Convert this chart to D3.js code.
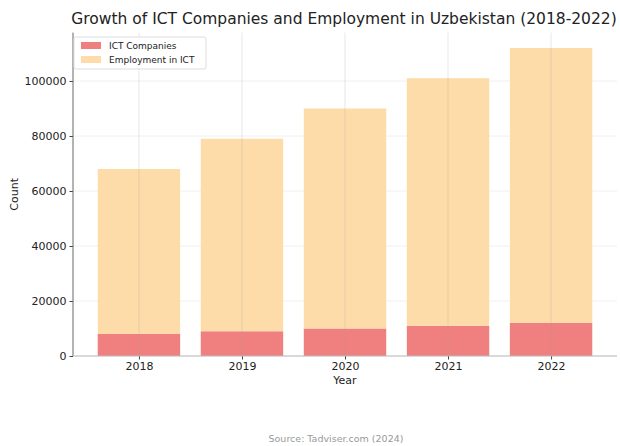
<!DOCTYPE html>
<html><head><meta charset="utf-8">
<script src="https://cdn.jsdelivr.net/npm/d3@7"></script>
<style>body{margin:0;background:#fff}svg{font-family:"DejaVu Sans",sans-serif}</style>
</head><body>
<script>
const years = ["2018","2019","2020","2021","2022"];
const companies = [8000, 9000, 10000, 11000, 12000];
const employment = [60000, 70000, 80000, 90000, 100000];
const yTicks = [0, 20000, 40000, 60000, 80000, 100000];

(function () {
const W = 620, H = 446;
const pL = 73, pR = 617, pT = 32.6, pB = 356;
const svg = d3.select("body").append("svg").attr("width", W).attr("height", H);

const x = d3.scaleLinear().domain([-0.64, 4.64]).range([pL, pR]);
const yMax = d3.max(companies.map((c, i) => c + employment[i])) * 1.05;
const y = d3.scaleLinear().domain([0, yMax]).range([pB, pT]);
const bw = x(0.8) - x(0);

// horizontal grid
svg.append("g").selectAll("line").data(yTicks).join("line")
  .attr("x1", pL).attr("x2", pR).attr("y1", d => y(d)).attr("y2", d => y(d))
  .attr("stroke", "#ececec").attr("stroke-width", 0.8);

// bars
svg.append("g").selectAll("rect").data(years).join("rect")
  .attr("x", (d, i) => x(i) - bw / 2).attr("width", bw)
  .attr("y", (d, i) => y(companies[i])).attr("height", (d, i) => pB - y(companies[i]))
  .attr("fill", "#f08080");
svg.append("g").selectAll("rect").data(years).join("rect")
  .attr("x", (d, i) => x(i) - bw / 2).attr("width", bw)
  .attr("y", (d, i) => y(companies[i] + employment[i]))
  .attr("height", (d, i) => y(companies[i]) - y(companies[i] + employment[i]))
  .attr("fill", "#fddcaa");

// vertical grid
svg.append("g").selectAll("line").data(years).join("line")
  .attr("x1", (d, i) => x(i)).attr("x2", (d, i) => x(i)).attr("y1", pT).attr("y2", pB)
  .attr("stroke", "#999").attr("stroke-opacity", 0.3).attr("stroke-width", 0.8);

// axes
const ya = svg.append("g").attr("transform", `translate(${pL},0)`)
  .call(d3.axisLeft(y).tickValues(yTicks).tickFormat(d3.format("d")).tickSize(3.5).tickPadding(3));
const xa = svg.append("g").attr("transform", `translate(0,${pB})`)
  .call(d3.axisBottom(x).tickValues(d3.range(years.length)).tickFormat(i => years[i]).tickSize(3.5).tickPadding(3));
[ya, xa].forEach(a => {
  a.select(".domain").remove();
  a.selectAll("text").attr("font-size", 11).attr("fill", "#222").attr("font-family", "DejaVu Sans");
  a.selectAll(".tick line").attr("stroke", "#444");
});
svg.append("line").attr("x1", pL).attr("x2", pL).attr("y1", pT).attr("y2", pB).attr("stroke", "#666").attr("stroke-width", 1);
svg.append("line").attr("x1", pL).attr("x2", pR).attr("y1", pB).attr("y2", pB).attr("stroke", "#bbb").attr("stroke-width", 1);

// labels
svg.append("text").attr("x", 344).attr("y", 24).attr("text-anchor", "middle")
  .attr("font-size", 15.5).attr("fill", "#222").text("Growth of ICT Companies and Employment in Uzbekistan (2018-2022)");
svg.append("text").attr("x", (pL + pR) / 2).attr("y", 384).attr("text-anchor", "middle")
  .attr("font-size", 11).attr("fill", "#222").text("Year");
svg.append("text").attr("transform", `translate(18,${(pT + pB) / 2}) rotate(-90)`).attr("text-anchor", "middle")
  .attr("font-size", 11).attr("fill", "#222").text("Count");
svg.append("text").attr("x", 336).attr("y", 442).attr("text-anchor", "middle")
  .attr("font-size", 9.5).attr("fill", "#999").text("Source: Tadviser.com (2024)");

// legend
const lg = svg.append("g").attr("transform", "translate(74,37)");
lg.append("rect").attr("width", 132).attr("height", 32).attr("fill", "#fff").attr("fill-opacity", 0.85)
  .attr("stroke", "#ddd").attr("rx", 2);
const items = [["ICT Companies", "#f08080"], ["Employment in ICT", "#fddcaa"]];
items.forEach((it, i) => {
  lg.append("rect").attr("x", 7).attr("y", 5 + i * 14).attr("width", 20).attr("height", 7).attr("fill", it[1]);
  lg.append("text").attr("x", 35).attr("y", 12 + i * 14).attr("font-size", 9).attr("fill", "#222").text(it[0]);
});
})();
</script>
</body></html>
